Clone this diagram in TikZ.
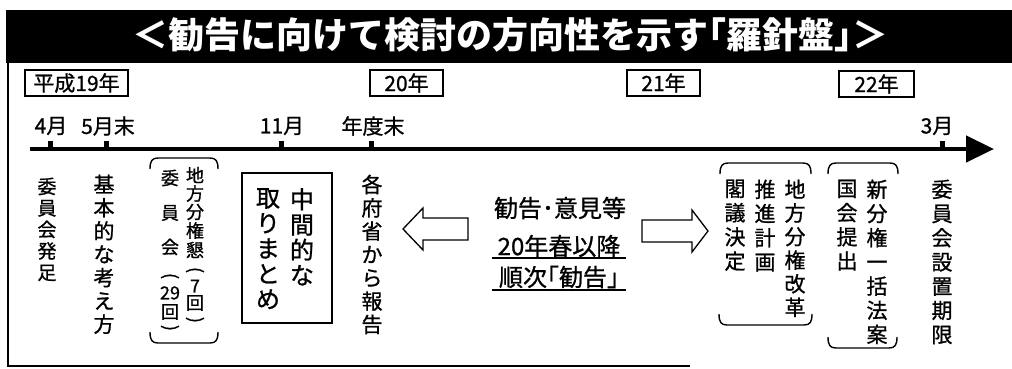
\documentclass[tikz,border=0pt]{standalone}
\usepackage{fontspec}
\newfontfamily\cjk{Noto Sans CJK JP}[FakeBold=0.9]
\newfontfamily\cjkt{Noto Sans CJK JP}
\usetikzlibrary{arrows.meta}
\newcommand\brTop[3]{\draw[brk] (#1,{#3+11}) .. controls (#1,{#3+3}) and ({#1+2},#3) .. ({#1+8},#3) -- ({#2-8},#3) .. controls ({#2-2},#3) and (#2,{#3+3}) .. (#2,{#3+11});}
\newcommand\brBot[3]{\draw[brk] (#1,{#3-11}) .. controls (#1,{#3-3}) and ({#1+2},#3) .. ({#1+8},#3) -- ({#2-8},#3) .. controls ({#2-2},#3) and (#2,{#3-3}) .. (#2,{#3-11});}
\begin{document}
\begin{tikzpicture}[x=1pt,y=-1pt,
  yearbox/.style={draw,line width=1.3pt,inner sep=0pt,minimum height=26pt,font=\cjk\fontsize{21}{21}\selectfont},
  tlabel/.style={inner sep=0pt,font=\cjk\fontsize{21}{21}\selectfont},
  vcol/.style={inner sep=0pt,align=center,anchor=north,font=\cjk\fontsize{21}{#1}\selectfont},
  vsmall/.style={inner sep=0pt,font=\cjk\fontsize{18}{18}\selectfont},
  vbig/.style={inner sep=0pt,align=center,anchor=north,font=\cjk\fontsize{24}{25.3}\selectfont},
  ctext/.style={inner sep=0pt,font=\cjk\fontsize{24}{24}\selectfont},
  brk/.style={line width=1.4pt},
  hollow/.style={draw,line width=1.3pt,line join=miter},
  tick/.style={fill=black},
]
\useasboundingbox (0,0) rectangle (1012,368);
% title bar
\fill (6,10) rectangle (1012,63);
\node[inner sep=0pt,text=white,font=\cjkt\bfseries\fontsize{36}{36}\selectfont] (title) at (510,35) {＜勧告に向けて検討の方向性を示す｢羅針盤｣＞};
% frame
\draw[line width=1.5pt] (8,63) -- (8,366) -- (690,366);
% year boxes
\node[yearbox,minimum width=103pt] (y19) at (76.5,83) {平成19年};
\node[yearbox,minimum width=73pt] (y20) at (406.5,83) {20年};
\node[yearbox,minimum width=73pt] (y21) at (663.5,83) {21年};
\node[yearbox,minimum width=75pt] (y22) at (876.5,84) {22年};
% time labels
\node[tlabel] (t4) at (51,126) {4月};
\node[tlabel] (t5) at (108,126) {5月末};
\node[tlabel] (t11) at (282,126) {11月};
\node[tlabel] (tfy) at (373,126) {年度末};
\node[tlabel] (t3) at (937,126) {3月};
% timeline
\coordinate (tlstart) at (30,149);
\coordinate (tlend) at (994,149);
\draw[line width=4.5pt,-{Triangle[length=28pt,width=26pt]}] (tlstart) -- (tlend);
\foreach \x in {50,106,281,371,942} \fill[tick] ({\x-2.5},141) rectangle ({\x+2.5},149);
% vertical columns
\node[vcol=21.5,font=\cjk\fontsize{19}{21.5}\selectfont] (c1) at (47,177.5) {委\\員\\会\\発\\足};
\node[vcol=23.3] (c2) at (104,174.5) {基\\本\\的\\な\\考\\え\\方};
% group 1
\foreach \c/\y [count=\i] in {地/175,方/193.5,分/212,権/230.5,懇/250,7/286,回/303}
  \node[vsmall] (ga\i) at (195,\y) {\c};
\node[vsmall,rotate=-90] (gaop) at (195,270) {(};
\node[vsmall,rotate=-90] (gacl) at (195,320) {)};
\foreach \c/\y [count=\i] in {委/178,員/213,会/247,29/293,回/312}
  \node[vsmall] (gb\i) at (170,\y) {\c};
\node[vsmall,rotate=-90] (gbop) at (170,276) {(};
\node[vsmall,rotate=-90] (gbcl) at (170,328) {)};
\brTop{150}{218}{158}
\brBot{150}{218}{343}
% middle box
\node[draw,line width=1.5pt,minimum width=90pt,minimum height=150pt,inner sep=0pt] (midbox) at (287,248) {};
\node[vbig] (mid1) at (302,188) {中\\間\\的\\な};
\node[vbig] (mid2) at (268,188) {取\\り\\ま\\と\\め};
\node[vcol=23.3] (c3) at (372,174.5) {各\\府\\省\\か\\ら\\報\\告};
% hollow arrows
\draw[hollow] (403,229) -- (423,208) -- (423,218) -- (468,218) -- (468,240) -- (423,240) -- (423,250) -- cycle;
\draw[hollow] (642,220) -- (692,220) -- (692,210) -- (708,231) -- (692,252) -- (692,242) -- (642,242) -- cycle;
% centre text
\node[ctext] (k1) at (560,208) {勧告･意見等};
\node[ctext] (k2) at (559,246) {20年春以降};
\node[ctext] (k3) at (559,277) {順次｢勧告｣};
\draw[line width=1.2pt] (492,258) -- (626,258);
\draw[line width=1.2pt] (492,290) -- (626,290);
% group 2
\node[vcol=23.6] (d1) at (795,179.5) {地\\方\\分\\権\\改\\革};
\node[vcol=24.2] (d2) at (765,179.5) {推\\進\\計\\画};
\node[vcol=24.2] (d3) at (735,179.5) {閣\\議\\決\\定};
\brTop{720}{811}{163}
\brBot{719}{812}{325}
% group 3
\node[vcol=24.2] (e1) at (877,179.5) {新\\分\\権\\一\\括\\法\\案};
\node[vcol=24.2] (e2) at (847,179.5) {国\\会\\提\\出};
\brTop{828}{898}{163}
\brBot{828}{897}{348}
% end
\node[vcol=24.2] (f1) at (942,179.5) {委\\員\\会\\設\\置\\期\\限};
\end{tikzpicture}
\end{document}
